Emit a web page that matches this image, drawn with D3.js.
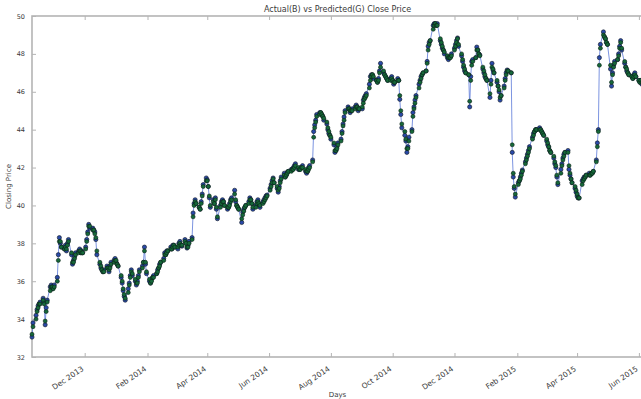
<!DOCTYPE html>
<html>
<head>
<meta charset="utf-8">
<script src="https://cdn.jsdelivr.net/npm/d3@7"></script>
<style>
  html, body { margin: 0; padding: 0; background: #fff; }
  svg { display: block; }
  text { font-family: "DejaVu Sans", sans-serif; fill: #3a3a3a; }
</style>
</head>
<body>
<svg id="chart" width="641" height="399"></svg>
<script>
// First trading session; later sessions follow on consecutive weekdays.
const firstSession = "2013-10-10";

// Actual closing price, one value per trading session.
const actualClose = [
  33.05, 33.8,
  34.2, 34.5, 34.7, 34.8, 34.9,   35.1, 34.9, 33.7, 34.6, 35.0,
  35.7, 35.8, 35.6, 35.7, 35.8,   36.2, 37.4, 38.3, 38.0, 37.8,
  37.7, 37.9, 37.6, 38.0, 38.2,   37.4, 36.9, 37.1, 37.3, 37.5,
  37.6, 37.7, 37.5, 37.6, 37.5,   37.8, 38.2, 38.6, 39.0, 38.8,
  38.8, 38.7, 38.6, 38.2, 37.4,   36.9, 36.7, 36.6, 36.5, 36.6,
  36.8, 36.7, 36.5, 36.8, 37.0,   37.1, 37.2, 37.0, 36.9, 36.8,
  36.2, 35.9, 35.5, 35.2, 35.0,   35.6, 35.9, 36.3, 36.6, 36.3,
  36.0, 35.8, 36.0, 36.3, 36.6,   36.8, 37.0, 37.8, 36.9, 36.4,
  36.0, 35.9, 36.1, 36.2, 36.3,   36.4, 36.6, 36.7, 36.9, 37.0,
  37.2, 37.5, 37.4, 37.6, 37.6,   37.8, 37.7, 37.9, 37.9, 37.8,
  37.7, 38.0, 38.1, 37.9, 37.85,  38.2, 38.0, 37.75, 37.9, 38.1,
  38.3, 39.6, 40.1, 40.3, 40.1,   39.9, 39.8, 40.2, 40.6, 41.1,
  41.45, 41.35, 41.0, 40.4, 39.9, 40.3, 40.1, 40.4, 39.8, 39.3,
  40.0, 40.2, 40.3, 40.2, 40.0,   39.8, 39.9, 40.1, 40.3, 40.4,
  40.8, 40.2, 40.0, 39.9, 39.8,   39.1, 39.65, 39.8, 39.9, 40.0,
  40.2, 40.4, 40.3, 40.1, 39.8,   40.0, 40.2, 40.3, 40.1, 39.9,
  40.2, 40.3, 40.4, 40.5, 40.55,  40.9, 41.1, 41.3, 41.45, 41.2,
  40.9, 40.7, 41.0, 41.3, 41.5,   41.7, 41.5, 41.6, 41.76, 41.8,
  41.9, 41.9, 42.0, 42.1, 42.2,   41.9, 41.9, 42.0, 42.0, 42.1,
  41.8, 41.7, 41.8, 42.0, 42.1,   42.4, 43.9, 44.25, 44.5, 44.8,
  44.9, 44.9, 44.8, 44.7, 44.5,   44.3, 44.0, 43.8, 43.7, 43.5,
  43.2, 42.8, 42.9, 43.1, 43.3,   43.5, 43.9, 44.3, 44.67, 45.0,
  45.2, 45.1, 44.9, 45.0, 45.1,   45.2, 45.3, 45.2, 45.0, 45.1,
  45.1, 45.56, 45.7, 45.8, 45.9,  46.4, 46.8, 46.9, 46.9, 46.7,
  46.6, 46.5, 46.7, 47.1, 47.5,   47.0, 46.9, 46.8, 46.7, 46.6,
  46.7, 46.8, 46.6, 46.4, 46.5,   46.7, 46.6, 45.6, 44.8, 44.1,
  43.7, 43.4, 42.8, 43.1, 43.6,   44.0, 44.9, 45.2, 45.56, 45.8,
  46.4, 46.6, 46.8, 46.9, 47.0,   47.1, 47.6, 48.4, 48.6, 48.7,
  49.5, 49.6, 49.6, 49.5, 49.6,   48.7, 48.5, 48.3, 48.2, 48.0,
  47.8, 47.7, 47.8, 47.84, 48.0,  48.3, 48.5, 48.7, 48.84, 48.4,
  47.9, 47.6, 47.3, 47.1, 47.0,   46.9, 45.2, 46.8, 47.6, 47.7,
  47.8, 48.36, 48.2, 48.0, 47.94, 47.2, 47.0, 46.8, 46.7, 46.6,
  45.7, 46.6, 47.5, 47.15, 47.0,  46.5, 46.3, 46.0, 45.56, 45.8,
  46.3, 46.7, 47.0, 47.15, 47.1,  47.0, 42.8, 41.5, 40.9, 40.44,
  41.2, 41.3, 41.5, 41.7, 41.87,  42.3, 42.5, 42.7, 42.9, 43.1,
  43.6, 43.8, 43.9, 44.0, 44.0,   44.1, 44.0, 43.9, 43.8, 43.7,
  43.4, 43.2, 43.08, 42.9, 42.8,  42.5, 42.2, 42.0, 41.5, 41.1,
  41.9, 42.2, 42.5, 42.7, 42.8,   42.9, 41.9, 41.6, 41.4, 41.2,
  40.9, 40.7, 40.5, 40.4, 40.39,  41.3, 41.4, 41.5, 41.5, 41.6,
  41.7, 41.6, 41.7, 41.7, 41.8,   42.4, 43.3, 44.0, 47.8, 48.5,
  49.16, 48.9, 48.8, 48.6, 48.5,  47.2, 46.3, 47.0, 47.4, 47.6,
  47.7, 48.0, 48.4, 48.7, 48.2,   47.5, 47.3, 47.1, 47.0, 46.9,
  46.8, 46.7, 46.9, 47.0, 46.8,   46.6, 46.5, 46.6, 46.4, 46.5,
  46.3, 46.2
];

// Model prediction for the same sessions.
const predictedClose = [
  33.2, 33.6,
  34.0, 34.4, 34.6, 34.8, 34.8,   35.0, 34.8, 33.9, 34.4, 34.9,
  35.5, 35.7, 35.7, 35.6, 35.7,   36.0, 37.1, 38.1, 38.1, 37.8,
  37.7, 37.8, 37.7, 37.9, 38.1,   37.5, 37.0, 37.0, 37.2, 37.4,
  37.5, 37.6, 37.6, 37.5, 37.5,   37.7, 38.1, 38.5, 38.9, 38.9,
  38.7, 38.7, 38.5, 38.3, 37.6,   37.0, 36.8, 36.6, 36.5, 36.5,
  36.7, 36.7, 36.6, 36.7, 36.9,   37.0, 37.1, 37.1, 36.9, 36.8,
  36.3, 36.0, 35.6, 35.3, 35.1,   35.4, 35.8, 36.2, 36.5, 36.4,
  36.1, 35.9, 35.9, 36.2, 36.5,   36.7, 37.0, 37.6, 37.0, 36.5,
  36.1, 35.9, 36.0, 36.2, 36.2,   36.4, 36.5, 36.7, 36.8, 37.0,
  37.1, 37.4, 37.4, 37.5, 37.6,   37.7, 37.7, 37.8, 37.9, 37.8,
  37.8, 37.9, 38.0, 37.9, 37.9,   38.1, 38.0, 37.8, 37.8, 38.0,
  38.2, 39.4, 40.0, 40.2, 40.1,   39.9, 39.8, 40.1, 40.5, 41.0,
  41.3, 41.3, 41.0, 40.5, 40.0,   40.2, 40.1, 40.3, 39.9, 39.4,
  39.9, 40.1, 40.2, 40.2, 40.0,   39.9, 39.9, 40.0, 40.2, 40.3,
  40.6, 40.3, 40.0, 39.9, 39.8,   39.3, 39.5, 39.7, 39.9, 40.0,
  40.1, 40.3, 40.3, 40.1, 39.9,   39.9, 40.1, 40.2, 40.1, 40.0,
  40.1, 40.2, 40.3, 40.4, 40.5,   40.8, 41.0, 41.2, 41.4, 41.2,
  41.0, 40.8, 40.9, 41.2, 41.4,   41.6, 41.5, 41.6, 41.7, 41.8,
  41.8, 41.9, 41.9, 42.0, 42.1,   42.0, 41.9, 41.9, 42.0, 42.0,
  41.9, 41.8, 41.8, 41.9, 42.0,   42.3, 43.6, 44.1, 44.4, 44.7,
  44.8, 44.9, 44.8, 44.7, 44.6,   44.4, 44.1, 43.9, 43.7, 43.6,
  43.3, 42.9, 42.9, 43.0, 43.2,   43.4, 43.8, 44.2, 44.5, 44.9,
  45.1, 45.1, 45.0, 45.0, 45.0,   45.1, 45.2, 45.2, 45.1, 45.1,
  45.2, 45.4, 45.6, 45.7, 45.8,   46.2, 46.6, 46.8, 46.9, 46.8,
  46.6, 46.5, 46.6, 47.0, 47.3,   47.1, 46.9, 46.8, 46.7, 46.6,
  46.6, 46.7, 46.6, 46.5, 46.5,   46.6, 46.6, 45.8, 45.0, 44.3,
  43.9, 43.5, 43.0, 43.0, 43.4,   43.9, 44.7, 45.1, 45.4, 45.7,
  46.2, 46.5, 46.7, 46.9, 47.0,   47.1, 47.5, 48.2, 48.5, 48.7,
  49.3, 49.5, 49.6, 49.5, 49.5,   48.8, 48.6, 48.4, 48.2, 48.1,
  47.9, 47.8, 47.8, 47.8, 47.9,   48.2, 48.4, 48.6, 48.8, 48.5,
  48.0, 47.7, 47.4, 47.2, 47.0,   46.9, 45.5, 46.6, 47.4, 47.6,
  47.8, 48.2, 48.2, 48.0, 47.9,   47.3, 47.1, 46.9, 46.7, 46.6,
  45.9, 46.4, 47.3, 47.2, 47.0,   46.6, 46.3, 46.1, 45.7, 45.8,
  46.2, 46.6, 46.9, 47.1, 47.1,   47.0, 43.2, 41.7, 41.0, 40.6,
  41.1, 41.3, 41.4, 41.6, 41.8,   42.2, 42.4, 42.6, 42.8, 43.0,
  43.5, 43.7, 43.9, 44.0, 44.0,   44.0, 44.0, 43.9, 43.8, 43.7,
  43.5, 43.3, 43.1, 42.9, 42.8,   42.6, 42.3, 42.1, 41.6, 41.2,
  41.7, 42.1, 42.4, 42.6, 42.8,   42.8, 42.1, 41.7, 41.4, 41.2,
  41.0, 40.8, 40.6, 40.4, 40.4,   41.1, 41.3, 41.4, 41.5, 41.6,
  41.6, 41.6, 41.7, 41.7, 41.8,   42.3, 43.1, 43.9, 47.4, 48.3,
  49.0, 48.9, 48.8, 48.6, 48.5,   47.4, 46.5, 46.9, 47.3, 47.5,
  47.7, 47.9, 48.3, 48.6, 48.3,   47.6, 47.3, 47.2, 47.0, 46.9,
  46.8, 46.7, 46.8, 46.9, 46.8,   46.6, 46.5, 46.6, 46.5, 46.5,
  46.4, 46.3
];

// Axis ticks.
const xTickDates = ["2013-12-01", "2014-02-01", "2014-04-01", "2014-06-01", "2014-08-01",
                    "2014-10-01", "2014-12-01", "2015-02-01", "2015-04-01", "2015-06-01"];
const yTickValues = [32, 34, 36, 38, 40, 42, 44, 46, 48, 50];

const titleText = "Actual(B) vs Predicted(G) Close Price";
const xLabelText = "Days";
const yLabelText = "Closing Price";

// Build the session dates (weekdays only).
const parseDay = d3.utcParse("%Y-%m-%d");
const sessions = [];
let day = parseDay(firstSession);
while (sessions.length < actualClose.length) {
  const wd = day.getUTCDay();
  if (wd !== 0 && wd !== 6) sessions.push(day);
  day = d3.utcDay.offset(day, 1);
}

const actualPts = sessions.map((d, i) => ({ date: d, value: actualClose[i] }));
const predictedPts = sessions.map((d, i) => ({ date: d, value: predictedClose[i] }));

const plot = { left: 32, right: 647, top: 16, bottom: 357 };

const x = d3.scaleUtc().domain(d3.extent(sessions)).range([plot.left, plot.right]);
const y = d3.scaleLinear().domain([32, 50]).range([plot.bottom, plot.top]);

const svg = d3.select("#chart");

svg.append("defs").append("clipPath").attr("id", "plotClip")
  .append("rect")
  .attr("x", plot.left - 4).attr("y", plot.top - 4)
  .attr("width", plot.right - plot.left + 8).attr("height", plot.bottom - plot.top + 8);

const spineColor = "#b4b4b4";
const tickFmt = d3.utcFormat("%b %Y");
const xTicks = xTickDates.map(parseDay);

// Bottom axis with inward ticks.
const xAxis = d3.axisBottom(x).tickValues(xTicks).tickSizeInner(-4).tickSizeOuter(0).tickFormat(tickFmt);
const gx = svg.append("g").attr("transform", `translate(0,${plot.bottom})`).call(xAxis);
gx.select(".domain").remove();
gx.selectAll(".tick line").attr("stroke", spineColor).attr("stroke-width", 1);
gx.selectAll(".tick text")
  .attr("font-size", 7.5)
  .attr("text-anchor", "end")
  .attr("dy", null)
  .attr("y", 0)
  .attr("transform", "translate(-1,13) rotate(-34)");

// Top axis: tick marks only.
const gxt = svg.append("g").attr("transform", `translate(0,${plot.top})`)
  .call(d3.axisTop(x).tickValues(xTicks).tickSizeInner(-4).tickSizeOuter(0).tickFormat(""));
gxt.select(".domain").remove();
gxt.selectAll(".tick line").attr("stroke", spineColor);

// Left axis with inward ticks.
const yAxis = d3.axisLeft(y).tickValues(yTickValues).tickSizeInner(-4).tickSizeOuter(0).tickPadding(7);
const gy = svg.append("g").attr("transform", `translate(${plot.left},0)`).call(yAxis);
gy.select(".domain").remove();
gy.selectAll(".tick line").attr("stroke", spineColor);
gy.selectAll(".tick text").attr("font-size", 6.5);

// Spines.
svg.append("rect")
  .attr("x", plot.left).attr("y", plot.top)
  .attr("width", plot.right - plot.left).attr("height", plot.bottom - plot.top)
  .attr("fill", "none").attr("stroke", spineColor).attr("stroke-width", 1.6);

const series = svg.append("g").attr("clip-path", "url(#plotClip)");

// Actual: blue line with circle markers.
series.append("path")
  .datum(actualPts)
  .attr("fill", "none")
  .attr("stroke", "#5a78d8")
  .attr("stroke-width", 0.8)
  .attr("d", d3.line().x(d => x(d.date)).y(d => y(d.value)));

series.append("g").selectAll("circle")
  .data(actualPts).join("circle")
  .attr("cx", d => x(d.date)).attr("cy", d => y(d.value)).attr("r", 2.1)
  .attr("fill", "#2a4aa8").attr("stroke", "#0c1420").attr("stroke-width", 0.6);

// Predicted: green circle markers.
series.append("g").selectAll("circle")
  .data(predictedPts).join("circle")
  .attr("cx", d => x(d.date)).attr("cy", d => y(d.value)).attr("r", 2.0)
  .attr("fill", "#16683a").attr("stroke", "#0a2214").attr("stroke-width", 0.6);

// Titles.
svg.append("text")
  .attr("x", (plot.left + plot.right) / 2 - 2).attr("y", 12)
  .attr("text-anchor", "middle").attr("font-size", 8)
  .text(titleText);

svg.append("text")
  .attr("x", (plot.left + plot.right) / 2 - 2).attr("y", 397)
  .attr("text-anchor", "middle").attr("font-size", 7)
  .text(xLabelText);

svg.append("text")
  .attr("transform", `translate(11,${(plot.top + plot.bottom) / 2}) rotate(-90)`)
  .attr("text-anchor", "middle").attr("font-size", 7)
  .text(yLabelText);
</script>
</body>
</html>
